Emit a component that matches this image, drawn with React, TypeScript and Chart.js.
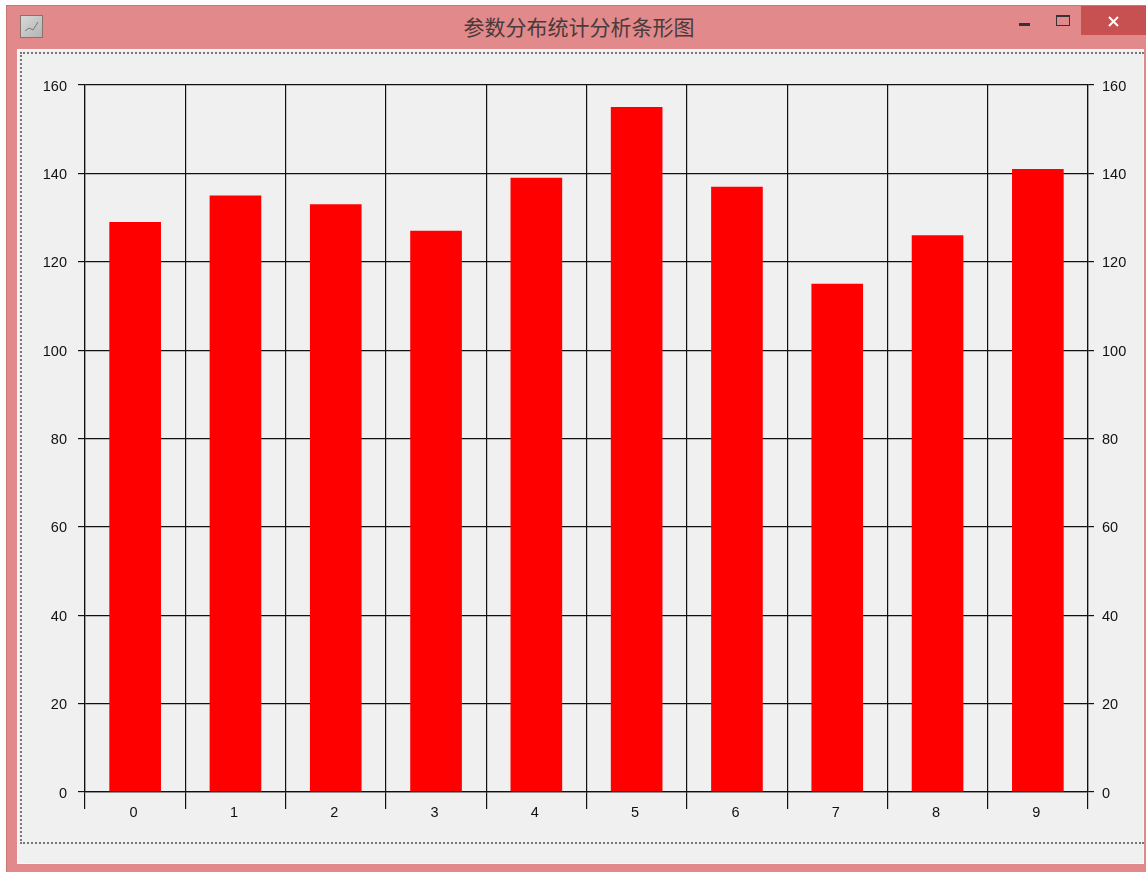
import React, { useEffect, useRef } from "react";
import { Chart, registerables } from "chart.js";

Chart.register(...registerables);

const windowTitle = "参数分布统计分析条形图";
const categories = ["0", "1", "2", "3", "4", "5", "6", "7", "8", "9"];
const seriesValues = [129, 135, 133, 127, 139, 155, 137, 115, 126, 141];
const yMin = 0;
const yMax = 160;
const yStep = 20;

const FONT = { family: "'Liberation Sans', sans-serif", size: 14.5 };
const INK = "#111111";

const abs = (l: number, t: number, w: number, h: number, extra: React.CSSProperties = {}): React.CSSProperties => ({
  position: "absolute", left: l, top: t, width: w, height: h, boxSizing: "border-box", ...extra,
});

export default function App() {
  const ref = useRef<HTMLCanvasElement>(null);
  useEffect(() => {
    document.body.style.margin = "0";
    document.body.style.background = "#ffffff";
    const chart = new Chart(ref.current!, {
      type: "bar",
      data: {
        labels: categories,
        datasets: [{
          label: "参数分布",
          data: seriesValues,
          backgroundColor: "#ff0000",
          borderWidth: 0,
          barPercentage: 0.515,
          categoryPercentage: 1,
        }],
      },
      options: {
        animation: false,
        responsive: false,
        devicePixelRatio: 1,
        layout: { padding: { top: 85, left: 0, right: 0, bottom: 0 } },
        plugins: { legend: { display: false }, title: { display: false }, tooltip: { enabled: false } },
        scales: {
          x: {
            type: "category",
            grid: { color: INK, lineWidth: 1.2, tickLength: 17, offset: true, tickColor: INK },
            border: { color: INK, width: 1.2 },
            ticks: { color: INK, font: FONT, padding: -5, labelOffset: -1.5, maxRotation: 0, autoSkip: false },
            afterFit: (s: any) => { s.height = 80; },
          },
          y: {
            type: "linear",
            position: "left",
            min: yMin,
            max: yMax,
            grid: { color: INK, lineWidth: 1.2, tickLength: 7, tickColor: INK },
            border: { color: INK, width: 1.2 },
            ticks: { color: INK, font: FONT, stepSize: yStep, padding: 11, labelOffset: 1.5 },
            afterFit: (s: any) => { s.width = 85; },
          },
          y2: {
            type: "linear",
            position: "right",
            min: yMin,
            max: yMax,
            grid: { drawOnChartArea: false, color: INK, lineWidth: 1.2, tickLength: 6, tickColor: INK },
            border: { color: INK, width: 1.2 },
            ticks: { color: INK, font: FONT, stepSize: yStep, padding: 8, labelOffset: 1.5 },
            afterFit: (s: any) => { s.width = 58; },
          },
        },
      },
    });
    return () => chart.destroy();
  }, []);

  return (
    <div style={{ position: "relative", width: 1146, height: 872, overflow: "hidden", background: "#ffffff" }}>
      <div style={abs(6, 5, 1140, 867, { background: "#e1898b", borderLeft: "1px solid #c87678", borderTop: "1px solid #c87678" })} />
      <div style={abs(17, 49, 1127, 815, { background: "#f0f0f0", border: "1px solid #f8f8f8" })} />
      <div style={abs(20, 52, 1124, 792, { borderLeft: "2px dotted #777", borderTop: "2px dotted #777", borderBottom: "2px dotted #777" })} />
      <div style={abs(20, 15, 23, 23, { background: "linear-gradient(135deg,#d8d8d8,#b4b4b4)", border: "1px solid #8a7070" })}>
        <svg width="21" height="21" style={{ display: "block" }}>
          <polyline points="4,15 8,12 12,14 17,6" fill="none" stroke="#777" strokeWidth="1" />
        </svg>
      </div>
      <div style={abs(379, 13, 400, 26, { textAlign: "center", font: "21px 'Noto Sans CJK SC', sans-serif", lineHeight: "26px", color: "#4a3a3a" })}>{windowTitle}</div>
      <div style={abs(1019, 23, 11, 3, { background: "#333" })} />
      <div style={abs(1056, 15, 14, 11, { border: "1px solid #333", borderTop: "2px solid #333" })} />
      <div style={abs(1081, 6, 65, 29, { background: "#c75050" })}>
        <svg width="65" height="29" style={{ display: "block" }}>
          <path d="M28 11 L37 20 M37 11 L28 20" stroke="#ffffff" strokeWidth="2" />
        </svg>
      </div>
      <canvas ref={ref} width={1146} height={872} style={{ position: "absolute", left: 0, top: 0, display: "block" }} />
    </div>
  );
}
